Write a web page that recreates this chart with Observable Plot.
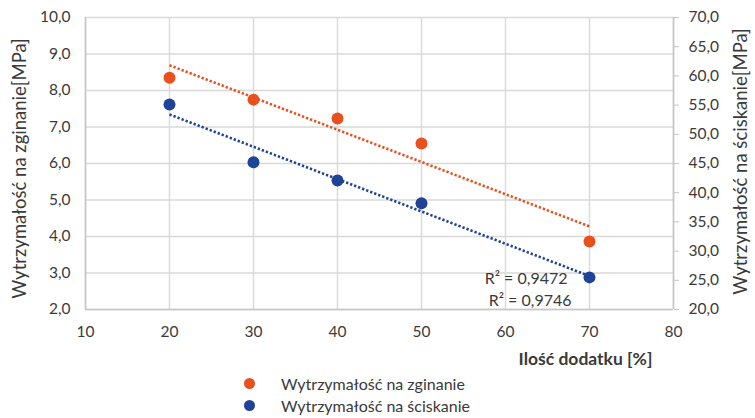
<!DOCTYPE html>
<html>
<head>
<meta charset="utf-8">
<script src="https://cdn.jsdelivr.net/npm/d3@7"></script>
<script src="https://cdn.jsdelivr.net/npm/@observablehq/plot@0.6"></script>
<style>
  html, body { margin: 0; padding: 0; background: #fff; }
  body { font-family: Lato, "Open Sans", sans-serif; color: #3a3a3a; width: 755px; }
  #legend { padding-left: 244px; font-size: 16px; }
  #legend .row { height: 22px; display: flex; align-items: center; }
  #legend .sw { width: 11px; height: 11px; border-radius: 50%; margin-right: 26px; }
</style>
</head>
<body>
<div id="chart"></div>
<div id="legend"></div>
<script>
// Additive amount [%]
const additive = [20, 30, 40, 50, 70];
// Flexural strength [MPa] (left axis)
const bending = [8.35, 7.75, 7.23, 6.55, 3.86];
// Compressive strength [MPa] (right axis)
const compression = [55.1, 45.2, 42.1, 38.2, 25.5];

const seriesNames = ["Wytrzymałość na zginanie", "Wytrzymałość na ściskanie"];
const r2Labels = ["R² = 0,9472", "R² = 0,9746"];
const xTicks = [10, 20, 30, 40, 50, 60, 70, 80];
const leftTicks = [2, 3, 4, 5, 6, 7, 8, 9, 10];
const rightTicks = [20, 25, 30, 35, 40, 45, 50, 55, 60, 65, 70];

const colors = ["#e8501e", "#1f4396"];
const ink = "#3a3a3a";
const gridColor = "#d9d9d9";
const font = "Lato, 'Open Sans', sans-serif";

// the right axis (20–70) is mapped linearly onto the left axis (2–10)
const toLeft = r => 2 + (r - 20) * (8 / 50);
const toRight = l => 20 + (l - 2) * (50 / 8);
const fmt = v => d3.format(".1f")(v).replace(".", ",");

const rowsBend = additive.map((x, i) => ({x, y: bending[i]}));
const rowsComp = additive.map((x, i) => ({x, y: toLeft(compression[i])}));

// least-squares trend line across the measured range
function trend(rows) {
  const mx = d3.mean(rows, d => d.x), my = d3.mean(rows, d => d.y);
  const sxy = d3.sum(rows, d => (d.x - mx) * (d.y - my));
  const sxx = d3.sum(rows, d => (d.x - mx) ** 2);
  const b = sxy / sxx, a = my - b * mx;
  return d3.extent(rows, d => d.x).map(x => ({x, y: a + b * x}));
}

const dotted = {strokeWidth: 2.6, strokeDasharray: "2.3 2", strokeLinecap: "butt"};

const chart = Plot.plot({
  width: 755,
  height: 372,
  marginLeft: 85,
  marginRight: 82,
  marginTop: 17,
  marginBottom: 63,
  style: {fontFamily: font, fontSize: "15.5px", color: ink, background: "#fff"},
  x: {domain: [10, 80]},
  y: {domain: [2, 10]},
  marks: [
    Plot.gridX(xTicks, {stroke: gridColor, strokeOpacity: 1, strokeWidth: 1.4}),
    Plot.gridY(leftTicks, {stroke: gridColor, strokeOpacity: 1, strokeWidth: 1.4}),
    Plot.ruleX([10, 80], {stroke: "#c6c6c6", strokeWidth: 1.6}),
    Plot.ruleY([2], {stroke: "#c6c6c6", strokeWidth: 1.6}),
    Plot.axisX(xTicks, {tickSize: 0, tickPadding: 16, tickFormat: d3.format("d"), label: null, fill: ink}),
    Plot.axisY(leftTicks, {anchor: "left", tickSize: 0, tickPadding: 15, tickFormat: fmt, label: null, fill: ink}),
    Plot.axisY(rightTicks.map(toLeft), {anchor: "right", tickSize: 5, tickPadding: 10, stroke: "#c6c6c6",
      tickFormat: d => fmt(toRight(d)), label: null, fill: ink}),
    // dotted trend lines
    Plot.line(trend(rowsBend), {x: "x", y: "y", stroke: colors[0], ...dotted}),
    Plot.line(trend(rowsComp), {x: "x", y: "y", stroke: colors[1], ...dotted}),
    Plot.dot(rowsBend, {x: "x", y: "y", r: 6, fill: colors[0]}),
    Plot.dot(rowsComp, {x: "x", y: "y", r: 6, fill: colors[1]}),
    // R² annotations
    Plot.text([r2Labels[0]], {frameAnchor: "bottom-right", dx: -106, dy: -26, textAnchor: "end", fill: ink, fontSize: 16}),
    Plot.text([r2Labels[1]], {frameAnchor: "bottom-right", dx: -102, dy: -4, textAnchor: "end", fill: ink, fontSize: 16}),
    // axis titles
    Plot.text(["Wytrzymałość na zginanie[MPa]"], {frameAnchor: "left", textAnchor: "middle", dx: -65, dy: 5, rotate: -90, fill: ink, fontSize: 18.5}),
    Plot.text(["Wytrzymałość na ściskanie[MPa]"], {frameAnchor: "right", textAnchor: "middle", dx: 68, dy: -2, rotate: -90, fill: ink, fontSize: 18.5}),
    Plot.text(["Ilość dodatku [%]"], {frameAnchor: "bottom", textAnchor: "middle", dx: 206, dy: 55, fill: ink, fontSize: 17.5, fontWeight: "bold"})
  ]
});
document.getElementById("chart").append(chart);

const legend = document.getElementById("legend");
seriesNames.forEach((name, i) => {
  const row = document.createElement("div");
  row.className = "row";
  const sw = document.createElement("span");
  sw.className = "sw";
  sw.style.background = colors[i];
  const label = document.createElement("span");
  label.textContent = name;
  row.append(sw, label);
  legend.append(row);
});
</script>
</body>
</html>
